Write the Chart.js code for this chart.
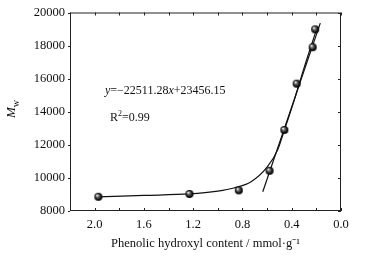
<!DOCTYPE html>
<html>
<head>
<meta charset="utf-8">
<script src="https://cdn.jsdelivr.net/npm/chart.js@4"></script>
<style>
  html, body { margin: 0; padding: 0; background: #fff; }
  #wrap { width: 369px; height: 260px; position: relative; }
</style>
</head>
<body>
<div id="wrap"><canvas id="c"></canvas></div>
<script>
// ── data ─────────────────────────────────────────────────────────────────────
const hydroxyl = [1.97, 1.23, 0.83, 0.58, 0.46, 0.36, 0.23, 0.21];
const mw       = [8860, 9030, 9250, 10430, 12900, 15700, 17900, 18980];

// hand-drawn smooth trend curve
const curveX = [1.97, 1.6, 1.23, 1.0, 0.87, 0.73, 0.6, 0.515, 0.46, 0.38, 0.3, 0.2];
const curveY = [8850, 8940, 9030, 9200, 9390, 9770, 10650, 11680, 12880, 14690, 16650, 18950];

// linear fit segment
const fitX = [0.635, 0.168];
const fitY = [9160, 19360];

const xTicks = [2.0, 1.6, 1.2, 0.8, 0.4, 0.0];
const yTicks = [8000, 10000, 12000, 14000, 16000, 18000, 20000];

const SERIF = "'Liberation Serif', 'Times New Roman', serif";
const INK = '#111';

// small shaded sphere used as marker
function sphere(r) {
  const c = document.createElement('canvas');
  c.width = c.height = r * 2 + 2;
  const g = c.getContext('2d');
  const cx = r + 1, cy = r + 1;
  const grad = g.createRadialGradient(cx - r * 0.35, cy - r * 0.4, 0.3, cx, cy, r);
  grad.addColorStop(0, '#fff');
  grad.addColorStop(0.3, '#777');
  grad.addColorStop(0.75, '#111');
  grad.addColorStop(1, '#000');
  g.fillStyle = grad;
  g.beginPath(); g.arc(cx, cy, r, 0, Math.PI * 2); g.fill();
  return c;
}

const frame = {
  id: 'frame',
  afterDraw(chart) {
    const { ctx, chartArea: a, scales: { x, y } } = chart;
    ctx.save();
    ctx.strokeStyle = '#222';
    ctx.lineWidth = 1;
    ctx.strokeRect(a.left + 0.5, a.top + 0.5, a.right - a.left - 1, a.bottom - a.top - 1);
    // x ticks (inward, bottom and top) every 0.2
    for (let v = 0; v <= 2.2001; v += 0.2) {
      const px = Math.round(x.getPixelForValue(v)) + 0.5;
      ctx.beginPath();
      ctx.moveTo(px, a.bottom); ctx.lineTo(px, a.bottom - 3);
      ctx.moveTo(px, a.top); ctx.lineTo(px, a.top + 3);
      ctx.stroke();
    }
    // y ticks: short outward on left, inward on right
    yTicks.forEach(v => {
      const py = Math.round(y.getPixelForValue(v)) + 0.5;
      ctx.beginPath();
      ctx.moveTo(a.left - 2, py); ctx.lineTo(a.left, py);
      ctx.moveTo(a.right, py); ctx.lineTo(a.right - 3, py);
      ctx.stroke();
    });

    ctx.fillStyle = INK;
    ctx.textBaseline = 'alphabetic';
    // equation
    let tx = 105, ty = 94;
    const parts = [['y', 'italic'], ['=−22511.28', ''], ['x', 'italic'], ['+23456.15', '']];
    parts.forEach(([s, st]) => {
      ctx.font = `${st} 12px ${SERIF}`;
      ctx.fillText(s, tx, ty);
      tx += ctx.measureText(s).width;
    });
    // R^2
    tx = 110; ty = 121;
    ctx.font = `12px ${SERIF}`;
    ctx.fillText('R', tx, ty);
    tx += ctx.measureText('R').width;
    ctx.font = `8px ${SERIF}`;
    ctx.fillText('2', tx, ty - 5);
    tx += ctx.measureText('2').width;
    ctx.font = `12px ${SERIF}`;
    ctx.fillText('=0.99', tx, ty);

    // y title M_w
    ctx.translate(15, 118);
    ctx.rotate(-Math.PI / 2);
    ctx.font = `italic 13px ${SERIF}`;
    ctx.fillText('M', 0, 0);
    const mW = ctx.measureText('M').width;
    ctx.font = `10px ${SERIF}`;
    ctx.fillText('w', mW, 4);
    ctx.restore();
  }
};

new Chart(document.getElementById('c'), {
  type: 'scatter',
  data: {
    datasets: [
      { data: curveX.map((v, i) => ({ x: v, y: curveY[i] })), showLine: true,
        borderColor: INK, borderWidth: 1.2, pointRadius: 0, cubicInterpolationMode: 'monotone', order: 2 },
      { data: fitX.map((v, i) => ({ x: v, y: fitY[i] })), showLine: true,
        borderColor: INK, borderWidth: 1.2, pointRadius: 0, order: 3 },
      { data: hydroxyl.map((v, i) => ({ x: v, y: mw[i] })), showLine: false,
        pointStyle: sphere(4), pointRadius: 4, order: 1 }
    ]
  },
  options: {
    responsive: true, maintainAspectRatio: false, animation: false,
    layout: { padding: { left: 0, right: 28, top: 12, bottom: 0 } },
    plugins: { legend: { display: false }, tooltip: { enabled: false } },
    scales: {
      x: {
        type: 'linear', reverse: true, min: 0, max: 2.2,
        afterBuildTicks: s => { s.ticks = xTicks.map(v => ({ value: v })); },
        afterFit: s => { s.height = 49; },
        grid: { display: false, drawTicks: false },
        border: { display: false },
        ticks: { padding: 6, color: INK, font: { family: SERIF, size: 12.5 }, callback: v => v.toFixed(1), maxRotation: 0 },
        title: { display: true, text: 'Phenolic hydroxyl content / mmol·g⁻¹', color: INK,
                 font: { family: SERIF, size: 12.5 }, padding: { top: 0, bottom: 9 } }
      },
      y: {
        min: 8000, max: 20000,
        afterBuildTicks: s => { s.ticks = yTicks.map(v => ({ value: v })); },
        afterFit: s => { s.width = 70; },
        grid: { display: false, drawTicks: false },
        border: { display: false },
        ticks: { padding: 5, color: INK, font: { family: SERIF, size: 12.5 }, callback: v => String(v) }
      }
    }
  },
  plugins: [frame]
});
</script>
</body>
</html>
